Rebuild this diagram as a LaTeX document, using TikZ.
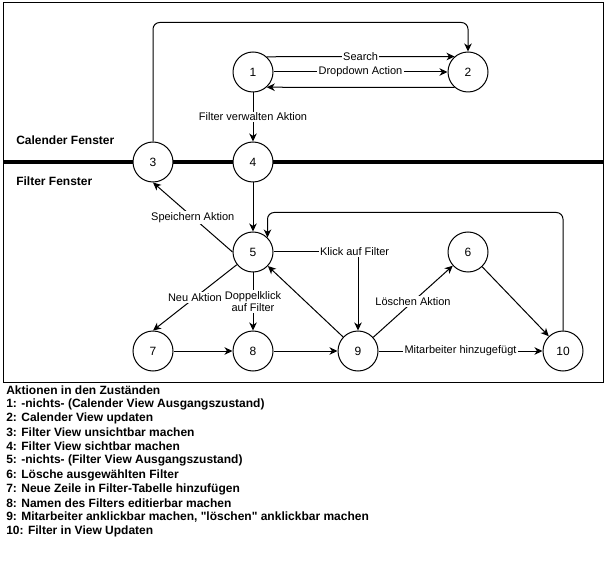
\documentclass[tikz,border=0pt]{standalone}
\usepackage{fontspec}
\setmainfont{Liberation Sans}[Ligatures=TeXOff]
\usetikzlibrary{arrows.meta}
\begin{document}
\begin{tikzpicture}[x=0.75pt,y=-0.75pt,
  st/.style={circle, draw, fill=white, line width=0.75pt, minimum size=30pt, inner sep=0pt, font=\fontsize{9}{10}\selectfont},
  lbl/.style={fill=white, inner sep=1pt, font=\fontsize{8.25}{9.4}\selectfont},
  edge/.style={line width=0.75pt, -{Stealth[length=6pt, width=5.6pt, inset=1.8pt]}},
  sect/.style={anchor=west, inner sep=0pt, font=\fontsize{9}{10}\selectfont\bfseries},
  lst/.style={anchor=west, inner sep=0pt, font=\fontsize{9}{10}\selectfont\bfseries}]
\useasboundingbox (0,0) rectangle (606,584);
\draw[line width=0.75pt] (3,3) rectangle (603,382);
\draw[line width=3pt] (3,162) -- (603,162);
\node[sect] (tcal) at (16,140) {Calender Fenster};
\node[sect] (tfil) at (16,181) {Filter Fenster};
% states
\node[st] (n1) at (253,72) {1};
\node[st] (n2) at (468,72) {2};
\node[st] (n3) at (153,162) {3};
\node[st] (n4) at (253,162) {4};
\node[st] (n5) at (253,252) {5};
\node[st] (n6) at (468,252) {6};
\node[st] (n7) at (153,351) {7};
\node[st] (n8) at (253,351) {8};
\node[st] (n9) at (358,351) {9};
\node[st] (n10) at (563,351) {10};
% edges
\draw[edge] (n1.48.6) -- node[lbl]{Search} (n2.131.4);
\draw[edge] (n1.east) -- node[lbl]{Dropdown Action} (n2.west);
\draw[edge] (n2.-131.4) -- (n1.-48.6);
\draw[edge] (n1) -- node[lbl]{Filter verwalten Aktion} (n4);
\draw[edge, rounded corners=5pt] (n3.north) -- ++(0,-119) -| (n2.north);
\draw[edge] (n4) -- (n5);
\draw[edge] (n5.west) -- node[lbl]{Speichern Aktion} (n3.south);
\draw[edge, rounded corners=5pt] (n10.north) -- ++(0,-118) -| (n5.north east);
\draw[edge] (n5.east) -| node[lbl, pos=0.48]{Klick auf Filter} (n9.north);
\draw[edge] (n9) -- (n5);
\draw[edge] (n5) -- node[lbl]{Neu Aktion} (n7.north);
\draw[edge] (n5) -- node[lbl, align=center]{Doppelklick\\auf Filter} (n8);
\draw[edge] (n9) -- node[lbl]{Löschen Aktion} (n6);
\draw[edge] (n6) -- (n10);
\draw[edge] (n7) -- (n8);
\draw[edge] (n8) -- (n9);
\draw[edge] (n9) -- node[lbl]{Mitarbeiter hinzugefügt} (n10);
% legend
\node[lst] (l0) at (6,390.0) {Aktionen in den Zuständen};
\node[lst] (l1) at (6,404.2) {1: -nichts- (Calender View Ausgangszustand)};
\node[lst] (l2) at (6,418.3) {2: Calender View updaten};
\node[lst] (l3) at (6,432.5) {3: Filter View unsichtbar machen};
\node[lst] (l4) at (6,446.7) {4: Filter View sichtbar machen};
\node[lst] (l5) at (6,460.8) {5: -nichts- (Filter View Ausgangszustand)};
\node[lst] (l6) at (6,475.0) {6: Lösche ausgewählten Filter};
\node[lst] (l7) at (6,489.2) {7: Neue Zeile in Filter-Tabelle hinzufügen};
\node[lst] (l8) at (6,503.3) {8: Namen des Filters editierbar machen};
\node[lst] (l9) at (6,517.5) {9: Mitarbeiter anklickbar machen, "löschen" anklickbar machen};
\node[lst] (l10) at (6,531.7) {10: Filter in View Updaten};
\end{tikzpicture}
\end{document}
